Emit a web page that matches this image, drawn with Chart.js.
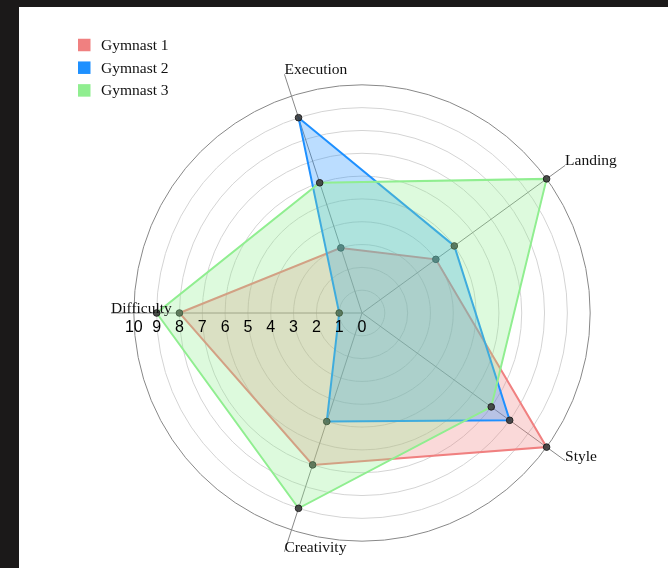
<!DOCTYPE html>
<html>
<head>
<meta charset="utf-8">
<script src="https://cdn.jsdelivr.net/npm/chart.js@4"></script>
<style>
  html, body { margin: 0; padding: 0; background: #1b1919; width: 668px; height: 568px; overflow: hidden; }
  #wrap { position: absolute; left: 19px; top: 7px; width: 649px; height: 561px; background: #ffffff; }
</style>
</head>
<body>
<div id="wrap"><canvas id="c"></canvas></div>
<script>
const categories = ['Execution', 'Landing', 'Style', 'Creativity', 'Difficulty'];
const seriesNames = ['Gymnast 1', 'Gymnast 2', 'Gymnast 3'];
const gymnast1 = [3, 4, 10, 7, 8];
const gymnast2 = [9, 5, 8, 5, 1];
const gymnast3 = [6, 10, 7, 9, 9];
const tickLabels = ['0', '1', '2', '3', '4', '5', '6', '7', '8', '9', '10'];
const seriesColors = ['rgb(240,128,128)', 'rgb(30,144,255)', 'rgb(144,238,144)'];
const seriesFills = ['rgba(240,128,128,0.3)', 'rgba(30,144,255,0.3)', 'rgba(144,238,144,0.3)'];
const seriesValues = [gymnast1, gymnast2, gymnast3];

const SERIF = '"Liberation Serif", "DejaVu Serif", serif';
const SANS = '"Liberation Sans", Arial, sans-serif';

const overlay = {
  id: 'overlay',
  afterDraw(chart) {
    const ctx = chart.ctx;
    const scale = chart.scales.r;
    ctx.save();
    // axis labels, left-aligned at the end of each axis line
    ctx.font = '15.5px ' + SERIF;
    ctx.fillStyle = '#111';
    ctx.textAlign = 'left';
    ctx.textBaseline = 'alphabetic';
    categories.forEach((lab, i) => {
      const p = scale.getPointPosition(i, scale.getDistanceFromCenterForValue(scale.max));
      ctx.fillText(lab, p.x, p.y);
    });
    // tick labels along the Difficulty axis
    const di = categories.length - 1;
    ctx.font = '16px ' + SANS;
    ctx.fillStyle = '#000';
    ctx.textAlign = 'center';
    ctx.textBaseline = 'middle';
    tickLabels.forEach((t) => {
      const p = scale.getPointPosition(di, scale.getDistanceFromCenterForValue(Number(t)));
      ctx.fillText(t, p.x, p.y + 15);
    });
    // legend
    ctx.font = '15.5px ' + SERIF;
    ctx.textAlign = 'left';
    ctx.textBaseline = 'middle';
    chart.data.datasets.forEach((ds, i) => {
      const cy = 38 + i * 22.7;
      ctx.fillStyle = seriesColors[i];
      ctx.fillRect(59, cy - 6.25, 12.5, 12.5);
      ctx.fillStyle = '#111';
      ctx.fillText(ds.label, 82, cy + 1);
    });
    ctx.restore();
  }
};

new Chart(document.getElementById('c'), {
  type: 'radar',
  data: {
    labels: categories,
    datasets: seriesNames.map((name, i) => ({
      label: name,
      data: seriesValues[i],
      borderColor: seriesColors[i],
      backgroundColor: seriesFills[i],
      borderWidth: 2,
      fill: true,
      order: 2 - i,
      pointRadius: 3.3,
      pointBackgroundColor: 'rgba(60,60,60,0.9)',
      pointBorderColor: '#222',
      pointBorderWidth: 1
    }))
  },
  options: {
    responsive: true,
    maintainAspectRatio: false,
    animation: false,
    layout: { padding: { left: 92, right: 55, top: 55, bottom: 4 } },
    plugins: {
      legend: { display: false },
      tooltip: { enabled: false }
    },
    elements: { line: { tension: 0 } },
    scales: {
      r: {
        min: 0,
        max: 11,
        startAngle: -18,
        ticks: { display: false, stepSize: 1 },
        pointLabels: { display: false },
        angleLines: { display: true, color: '#888', lineWidth: 1 },
        grid: {
          circular: true,
          lineWidth: 1,
          color: (ctx) => {
            const v = ctx.tick ? ctx.tick.value : null;
            if (v === 11) return 'rgba(0,0,0,0)';
            if (v === 10) return '#888';
            return '#d4d4d4';
          }
        }
      }
    }
  },
  plugins: [overlay]
});
</script>
</body>
</html>
